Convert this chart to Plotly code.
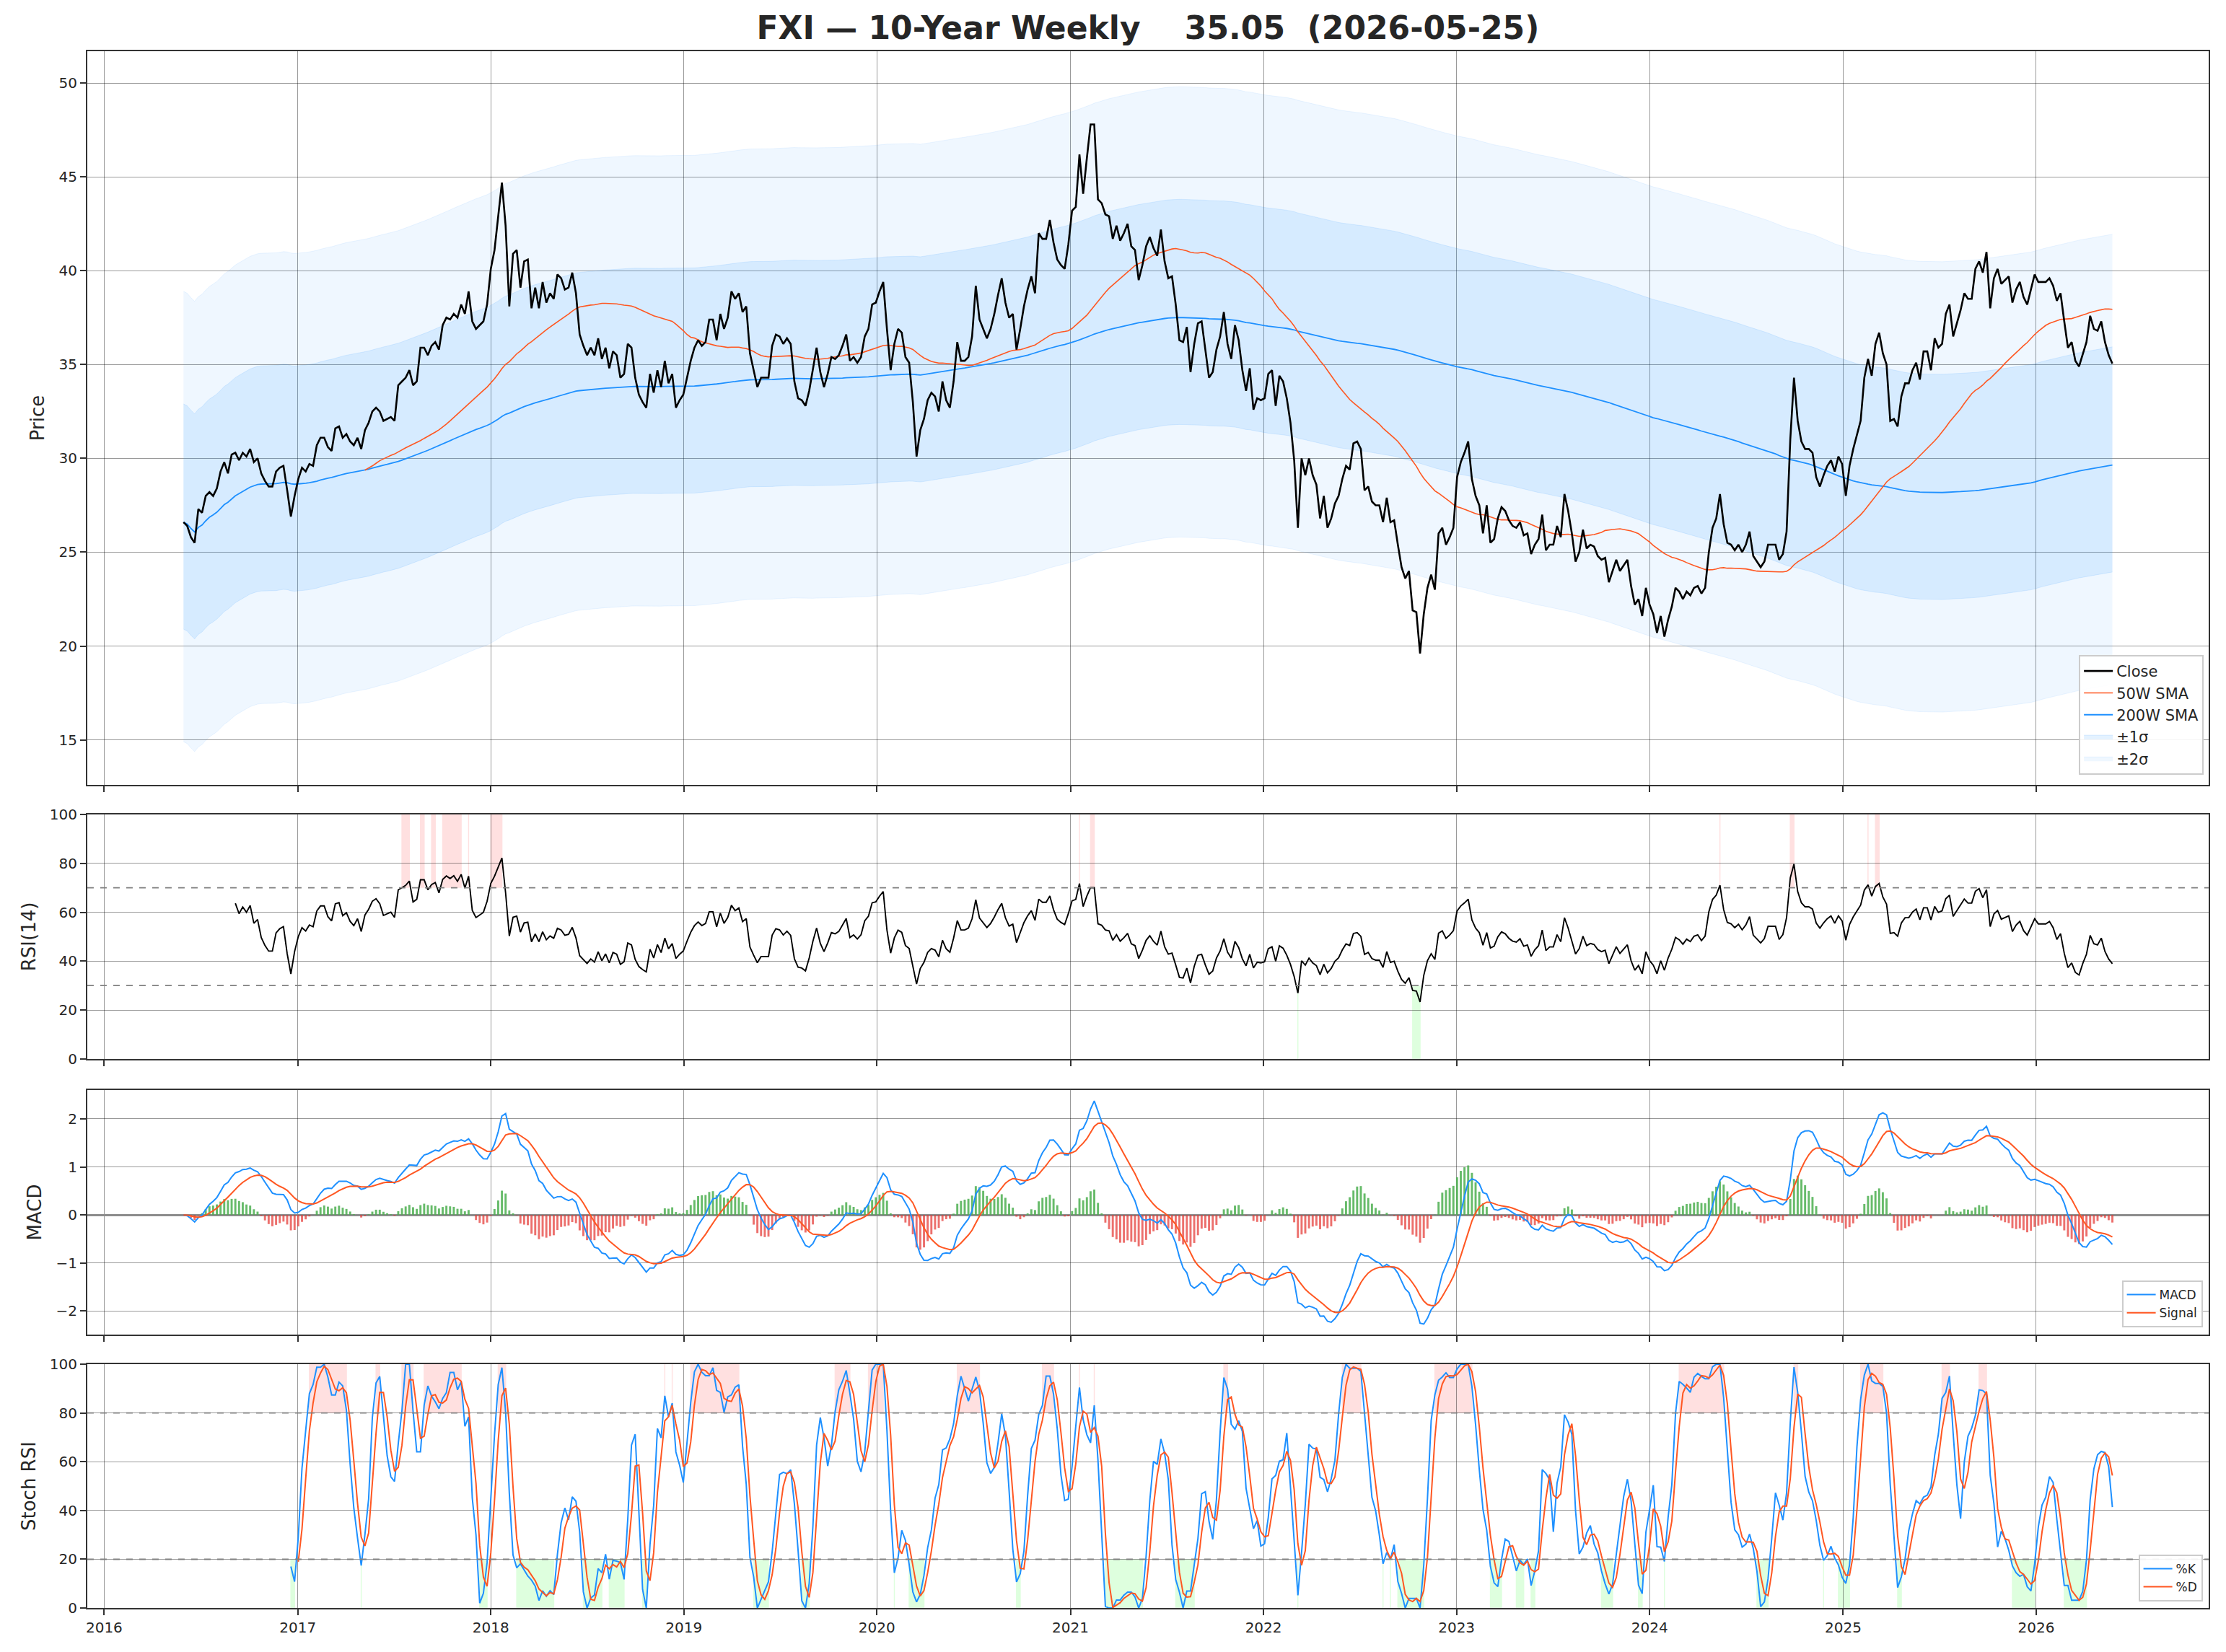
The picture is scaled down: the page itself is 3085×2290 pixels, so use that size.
import numpy as np
import pandas as pd
import plotly.graph_objects as go
from plotly.subplots import make_subplots

TICKER = "FXI"
LAST_DATE = "2026-05-25"
BAND_SIGMA = 6.0    # width of one sigma band
BAND_OFFSET = 0.3   # band centre sits slightly above the 200W SMA in the chart

# Weekly closes (2016-05-30 .. 2026-05-25)
close_2016_2018 = [
    26.6, 26.4, 25.8, 25.5, 27.3, 27.1, 28.0, 28.2, 28.0, 28.4,
    29.3, 29.8, 29.2, 30.2, 30.3, 29.9, 30.3, 30.1, 30.5, 29.8,
    30.0, 29.2, 28.8, 28.5, 28.5, 29.3, 29.5, 29.6, 28.3, 26.9,
    28.0, 28.9, 29.5, 29.3, 29.7, 29.6, 30.7, 31.1, 31.1, 30.6,
    30.4, 31.6, 31.7, 31.1, 31.3, 30.9, 30.7, 31.1, 30.5, 31.5,
    31.9, 32.5, 32.7, 32.5, 32.0, 32.1, 32.2, 32.0, 33.9, 34.1,
    34.3, 34.7, 33.9, 34.1, 35.9, 35.9, 35.5, 36.0, 36.2, 35.8,
    37.1, 37.5, 37.4, 37.7, 37.5, 38.2, 37.7, 38.9, 37.3, 36.9,
    37.1, 37.3, 38.2, 40.1, 41.1, 42.8, 44.7, 42.4, 38.1, 40.9,
    41.1, 39.1, 40.5, 40.6, 38.0, 39.1, 38.0, 39.4, 38.3, 38.8,
    38.5, 39.8, 39.6, 39.0, 39.1, 39.9, 38.8, 36.6, 36.0, 35.5,
    35.9, 35.5, 36.4, 35.3, 35.9, 34.8, 35.7, 35.5, 34.3, 34.5,
    36.1, 35.9, 34.3, 33.4, 33.0, 32.7,
]
close_2018_2021 = [
    34.5, 33.5, 34.7, 33.8, 35.2, 34.0, 34.5, 32.7, 33.1, 33.4,
    34.3, 35.2, 35.9, 36.3, 36.0, 36.2, 37.4, 37.4, 36.3, 37.7,
    36.9, 37.5, 38.9, 38.5, 38.8, 37.8, 38.1, 35.6, 34.7, 33.8,
    34.3, 34.3, 34.3, 36.0, 36.6, 36.5, 36.1, 36.4, 36.1, 34.1,
    33.2, 33.1, 32.8, 33.6, 34.8, 35.9, 34.6, 33.8, 34.5, 35.4,
    35.3, 35.5, 36.0, 36.6, 35.2, 35.4, 35.1, 35.4, 36.5, 36.9,
    38.2, 38.3, 38.9, 39.4, 36.9, 34.7, 36.1, 36.9, 36.7, 35.4,
    35.1, 33.0, 30.1, 31.5, 32.1, 33.1, 33.5, 33.3, 32.5, 34.1,
    33.1, 32.7, 34.1, 36.2, 35.2, 35.2, 35.4, 36.5, 39.2, 37.4,
    36.9, 36.4, 36.9, 37.7, 38.7, 39.6, 38.3, 37.5, 37.7, 35.8,
    36.9, 38.1, 39.0, 39.7, 38.8, 42.0, 41.7, 41.7, 42.7, 41.5,
    40.6, 40.3, 40.1, 41.4, 43.2, 43.4, 46.2, 44.1, 46.0, 47.8,
    47.8, 43.8, 43.6, 43.0, 42.9, 41.7, 42.4, 41.6, 42.0, 42.5,
    41.3, 41.1, 39.5, 40.3, 41.3, 41.8, 41.2, 40.8, 42.2, 40.5,
    39.6, 39.7, 38.2, 36.3,
]
close_2021_2024 = [
    36.2, 37.0, 34.6, 36.1, 37.2, 37.3, 35.8, 34.3, 34.6, 35.8,
    36.5, 37.8, 36.1, 35.3, 37.1, 36.3, 34.7, 33.6, 34.8, 32.6,
    33.2, 33.1, 33.2, 34.5, 34.7, 32.8, 34.4, 34.1, 33.2, 31.9,
    29.9, 26.3, 30.0, 29.1, 30.0, 29.1, 28.6, 26.8, 28.0, 26.3,
    26.8, 27.6, 28.0, 28.9, 29.6, 29.4, 30.8, 30.9, 30.5, 28.3,
    28.5, 27.7, 27.5, 27.5, 26.6, 27.9, 26.6, 26.7, 25.4, 24.2,
    23.6, 24.0, 21.9, 21.8, 19.6, 21.7, 23.1, 23.8, 23.0, 26.0,
    26.3, 25.4, 25.8, 26.3, 29.0, 29.8, 30.3, 30.9, 28.9, 28.0,
    27.5, 26.0, 27.5, 25.5, 25.7, 26.8, 27.4, 27.2, 26.7, 26.4,
    26.3, 26.6, 25.9, 26.0, 24.9, 25.4, 25.7, 27.0, 25.1, 25.4,
    25.4, 26.4, 25.8, 28.1, 27.2, 26.0, 24.5, 25.0, 26.2, 25.2,
    25.4, 25.3, 24.8, 24.6, 24.7, 23.4, 24.0, 24.6, 24.0, 24.3,
    24.6, 23.2, 22.2, 22.5, 21.6, 23.1, 22.2, 21.7, 20.7, 21.6,
    20.5, 21.4, 22.1, 23.1, 22.9, 22.5, 22.9, 22.7, 23.1, 23.2,
    22.8, 23.1, 25.0, 26.3, 26.8,
]
close_2024_2026 = [
    28.1, 26.5, 25.5, 25.4, 25.1, 25.4, 25.0, 25.4, 26.1, 24.8,
    24.5, 24.2, 24.5, 25.4, 25.4, 25.4, 24.6, 24.9, 26.1, 31.0,
    34.3, 32.0, 30.9, 30.5, 30.5, 30.3, 29.0, 28.5, 29.1, 29.6,
    29.9, 29.3, 30.1, 29.7, 28.0, 29.6, 30.5, 31.2, 32.0, 34.3,
    35.3, 34.4, 36.1, 36.7, 35.6, 35.0, 32.0, 32.1, 31.7, 33.3,
    34.0, 34.0, 34.7, 35.1, 34.2, 35.7, 35.7, 34.7, 36.4, 35.9,
    36.1, 37.7, 38.2, 36.5, 37.2, 37.9, 38.8, 38.5, 38.5, 40.1,
    40.5, 39.9, 41.0, 38.0, 39.6, 40.1, 39.3, 39.5, 39.7, 38.3,
    39.0, 39.4, 38.6, 38.2, 39.0, 39.8, 39.4, 39.4, 39.4, 39.6,
    39.2, 38.4, 38.8, 37.3, 35.9, 36.2, 35.2, 34.9, 35.6, 36.2,
    37.6, 36.9, 36.8, 37.3, 36.2, 35.5, 35.05,
]

year_ticks = list(range(2016, 2027))
price_ticks = [15, 20, 25, 30, 35, 40, 45, 50]
rsi_ticks = [0, 20, 40, 60, 80, 100]
macd_ticks = [-2, -1, 0, 1, 2]
stoch_ticks = [0, 20, 40, 60, 80, 100]

# ---------------- data & indicators ----------------
vals = close_2016_2018 + close_2018_2021 + close_2021_2024 + close_2024_2026
dates = pd.date_range(end=LAST_DATE, periods=len(vals), freq="W-MON")
close = pd.Series(vals, index=dates)

sma50 = close.rolling(50).mean()
sma200 = close.rolling(200, min_periods=1).mean()

delta = close.diff()
gain = delta.clip(lower=0)
loss = -delta.clip(upper=0)
avg_gain = gain.ewm(alpha=1 / 14, adjust=False, min_periods=14).mean()
avg_loss = loss.ewm(alpha=1 / 14, adjust=False, min_periods=14).mean()
rsi = 100 - 100 / (1 + avg_gain / avg_loss)

ema12 = close.ewm(span=12, adjust=False).mean()
ema26 = close.ewm(span=26, adjust=False).mean()
macd = ema12 - ema26
signal = macd.ewm(span=9, adjust=False).mean()
hist = macd - signal

rmin = rsi.rolling(14).min()
rmax = rsi.rolling(14).max()
stoch = (rsi - rmin) / (rmax - rmin) * 100
k_line = stoch.rolling(3).mean()
d_line = k_line.rolling(3).mean()

# ---------------- figure ----------------
BLUE = "#1e90ff"
ORANGE = "#ff5722"
FONT = "DejaVu Sans"

fig = make_subplots(rows=4, cols=1)

band_mid = sma200 + BAND_OFFSET
for mult, alpha, name, rank in [(2, 0.07, "±2σ", 5), (1, 0.12, "±1σ", 4)]:
    lo = band_mid - mult * BAND_SIGMA
    hi = band_mid + mult * BAND_SIGMA
    fig.add_trace(go.Scatter(x=dates, y=lo, mode="lines",
                             line=dict(width=0.8, color=f"rgba(30,144,255,{alpha + 0.04})"),
                             showlegend=False, hoverinfo="skip"), row=1, col=1)
    fig.add_trace(go.Scatter(x=dates, y=hi, mode="lines", fill="tonexty",
                             fillcolor=f"rgba(30,144,255,{alpha})",
                             line=dict(width=0.8, color=f"rgba(30,144,255,{alpha + 0.04})"),
                             name=name, legend="legend", legendrank=rank), row=1, col=1)

fig.add_trace(go.Scatter(x=dates, y=sma200, mode="lines", line=dict(color=BLUE, width=1.8),
                         name="200W SMA", legend="legend", legendrank=3), row=1, col=1)
fig.add_trace(go.Scatter(x=dates, y=sma50, mode="lines", line=dict(color=ORANGE, width=1.6),
                         name="50W SMA", legend="legend", legendrank=2), row=1, col=1)
fig.add_trace(go.Scatter(x=dates, y=close, mode="lines", line=dict(color="black", width=2.6),
                         name="Close", legend="legend", legendrank=1), row=1, col=1)

# RSI
fig.add_trace(go.Scatter(x=dates, y=rsi, mode="lines", line=dict(color="black", width=1.9),
                         showlegend=False), row=2, col=1)

# MACD
bar_colors = ["rgba(76,175,80,0.85)" if h >= 0 else "rgba(229,57,53,0.72)" for h in hist.fillna(0)]
fig.add_trace(go.Bar(x=dates, y=hist, marker=dict(color=bar_colors, line=dict(width=0)),
                     width=4 * 86400000, showlegend=False), row=3, col=1)
fig.add_trace(go.Scatter(x=dates, y=macd, mode="lines", line=dict(color=BLUE, width=2),
                         name="MACD", legend="legend2"), row=3, col=1)
fig.add_trace(go.Scatter(x=dates, y=signal, mode="lines", line=dict(color=ORANGE, width=2),
                         name="Signal", legend="legend2"), row=3, col=1)

# Stoch RSI
fig.add_trace(go.Scatter(x=dates, y=k_line, mode="lines", line=dict(color=BLUE, width=2),
                         name="%K", legend="legend3"), row=4, col=1)
fig.add_trace(go.Scatter(x=dates, y=d_line, mode="lines", line=dict(color=ORANGE, width=2),
                         name="%D", legend="legend3"), row=4, col=1)


def runs(mask):
    out, start = [], None
    for i, m in enumerate(mask):
        if m and start is None:
            start = i
        elif not m and start is not None:
            out.append((start, i - 1))
            start = None
    if start is not None:
        out.append((start, len(mask) - 1))
    return out


PINK = "rgba(255,0,0,0.12)"
GREEN = "rgba(0,255,0,0.13)"
pad = pd.Timedelta(days=1)


def shade(cond, y0, y1, color, xr, yr):
    for s, e in runs(cond.fillna(False).values):
        fig.add_shape(type="rect", xref=xr, yref=yr, x0=dates[s] - pad, x1=dates[e] + pad,
                      y0=y0, y1=y1, fillcolor=color, line=dict(width=0), layer="below")


shade(rsi > 70, 70, 100, PINK, "x2", "y2")
shade(rsi < 30, 0, 30, GREEN, "x2", "y2")
shade(k_line > 80, 80, 100, PINK, "x4", "y4")
shade(k_line < 20, 0, 20, GREEN, "x4", "y4")

for yv, xr, yr in [(70, "x2", "y2"), (30, "x2", "y2"), (80, "x4", "y4"), (20, "x4", "y4")]:
    fig.add_shape(type="line", xref=f"{xr} domain", yref=yr, x0=0, x1=1, y0=yv, y1=yv,
                  line=dict(color="#808080", width=1.8, dash="dash"))

# ---------------- layout ----------------
xdom = [0.0392, 0.9922]
ydoms = [[0.5249, 0.9690], [0.3590, 0.5070], [0.1921, 0.3402], [0.0266, 0.1742]]
xrange = [pd.Timestamp("2015-11-30"), pd.Timestamp("2026-11-23")]
tickdates = [pd.Timestamp(f"{y}-01-01") for y in year_ticks]

axis_common = dict(showline=True, mirror=True, linecolor="#333333", linewidth=2,
                   ticks="outside", ticklen=8, tickwidth=1.5, tickcolor="#333333",
                   showgrid=True, gridcolor="rgba(0,0,0,0.40)", gridwidth=1.3,
                   zeroline=False, tickfont=dict(size=20, color="#262626"), automargin=False)

for i in range(4):
    xname = "xaxis" if i == 0 else f"xaxis{i + 1}"
    fig.layout[xname].update(domain=xdom, range=xrange, tickvals=tickdates,
                             ticktext=[str(y) for y in year_ticks],
                             showticklabels=(i == 3), **axis_common)

yspecs = [
    dict(range=[12.6, 51.7], tickvals=price_ticks, title="Price"),
    dict(range=[0, 100], tickvals=rsi_ticks, title="RSI(14)"),
    dict(range=[-2.49, 2.60], tickvals=macd_ticks, title="MACD"),
    dict(range=[0, 100], tickvals=stoch_ticks, title="Stoch RSI"),
]
for i, spec in enumerate(yspecs):
    yname = "yaxis" if i == 0 else f"yaxis{i + 1}"
    fig.layout[yname].update(domain=ydoms[i], range=spec["range"], tickvals=spec["tickvals"],
                             title=dict(text=spec["title"], font=dict(size=26, color="#262626"),
                                        standoff=12),
                             **axis_common)
fig.layout.yaxis3.update(zeroline=True, zerolinecolor="#8c8c8c", zerolinewidth=3)

nb = "\u00a0"
title_text = (f"<b>{TICKER} — 10-Year Weekly{nb * 4}{close.iloc[-1]:.2f}{nb * 2}({LAST_DATE})</b>")

legend_style = dict(bgcolor="rgba(255,255,255,0.9)", bordercolor="#cccccc", borderwidth=2,
                    xanchor="right", yanchor="bottom", itemwidth=40, tracegroupgap=0,
                    traceorder="normal")

fig.update_layout(
    width=3085, height=2290, autosize=False,
    margin=dict(l=0, r=0, t=0, b=0),
    paper_bgcolor="white", plot_bgcolor="white",
    font=dict(family=FONT, color="#262626"),
    title=dict(text=title_text, x=0.5157, xanchor="center", y=0.983, yanchor="middle",
               font=dict(size=44, color="#262626", family=FONT)),
    legend=dict(x=0.990, y=0.531, font=dict(size=21), **legend_style),
    legend2=dict(x=0.9895, y=0.1965, font=dict(size=17), **legend_style),
    legend3=dict(x=0.9895, y=0.0306, font=dict(size=17), **legend_style),
    barmode="overlay",
    showlegend=True,
)

fig.write_html("out.html")
